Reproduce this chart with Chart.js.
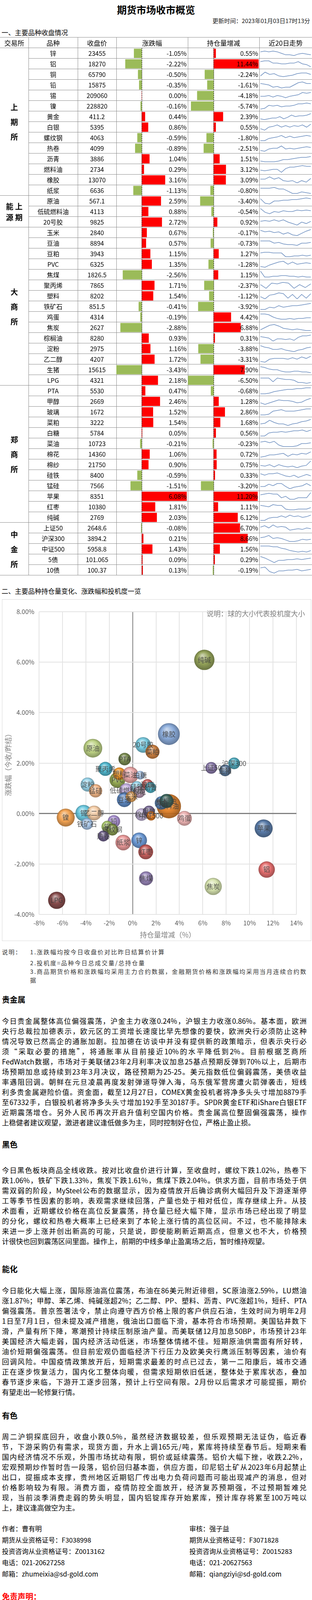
<!DOCTYPE html>
<html>
<head>
<meta charset="utf-8">
<script src="https://cdn.jsdelivr.net/npm/chart.js@4.4.0/dist/chart.umd.min.js"></script>
<style>
body { margin:0; background:#fff; font-family:"Noto Sans CJK SC", sans-serif; color:#000; }
#page { position:relative; width:799px; height:4343px; overflow:hidden; }
.abs { position:absolute; }
.cell { position:absolute; height:27px; line-height:27px; font-size:16px; white-space:nowrap; }
.hl { position:absolute; height:1px; background:#8c8c8c; }
.vl { position:absolute; width:1px; background:#8c8c8c; }
.para div { height:26px; line-height:26px; font-size:18px; white-space:nowrap; width:780px; text-align:justify; text-align-last:justify; }
.para div.last { text-align-last:left; }
.h2 { position:absolute; left:5px; font-size:20px; font-weight:bold; }
</style>
</head>
<body>
<div id="page">
  <div class="abs" style="left:0;width:799px;top:6px;text-align:center;font-size:25px;font-weight:bold;">期货市场收市概览</div>
  <div class="abs" style="right:5px;top:42px;font-size:15px;color:#222;">更新时间：2023年01月03日17时13分</div>
  <div class="abs" style="left:4px;top:70px;font-size:17px;">一、主要品种收盘情况</div>
  <div id="tbl"></div>
  <canvas id="chgChart" class="abs" width="183" height="1350" style="left:298px;top:123px;"></canvas>
  <canvas id="oiChart" class="abs" width="183" height="1350" style="left:481px;top:123px;"></canvas>
  <div id="txt" class="abs" style="left:0;top:0;width:799px;height:1480px;"></div>

  <div class="abs" style="left:4px;top:1500px;font-size:17px;">二、主要品种持仓量变化、涨跌幅和投机度一览</div>
  <div class="abs" style="left:5px;top:1534px;width:792px;height:875px;border:1px solid #d9d9d9;box-sizing:border-box;"></div>
  <canvas id="bubble" class="abs" width="790" height="873" style="left:6px;top:1535px;"></canvas>

  <div class="abs" style="left:5px;top:2426px;font-size:15px;color:#333;letter-spacing:2px;line-height:22px;">说明：</div>
  <div class="abs" style="left:77px;top:2426px;font-size:15px;color:#333;letter-spacing:2.3px;line-height:22px;width:720px;">
    <div>1.涨跌幅均按今日收盘价对比昨日结算价计算</div>
    <div style="margin-top:6px">2.投机度=品种今日总成交量/总持仓量</div>
    <div>3.商品期货价格和涨跌幅均采用主力合约数据，金融期货价格和涨跌幅均采用当月连续合约数据</div>
  </div>

  <div class="h2" style="top:2544px;">贵金属</div>
  <div class="para abs" style="left:5px;top:2600px;">
    <div>今日贵金属整体高位偏强震荡，沪金主力收涨0.24%，沪银主力收涨0.86%。基本面，欧洲</div>
    <div>央行总裁拉加德表示，欧元区的工资增长速度比早先想像的要快，欧洲央行必须防止这种</div>
    <div>情况导致已然高企的通胀加剧。拉加德在访谈中并没有提供新的政策暗示，但表示央行必</div>
    <div>须“采取必要的措施”，将通胀率从目前接近10%的水平降低到2%。目前根据芝商所</div>
    <div>FedWatch数据，市场对于美联储23年2月利率决议加息25基点预期反弹到70%以上，后期市</div>
    <div>场预期加息或持续到23年3月决议，路径预期为25-25。美元指数低位偏弱震荡，美债收益</div>
    <div>率遇阻回调。朝鲜在元旦凌晨再度发射弹道导弹入海，乌东俄军营房遭火箭弹袭击，短线</div>
    <div>利多贵金属避险价值。资金面，截至12月27日，COMEX黄金投机者将净多头头寸增加8879手</div>
    <div>至67332手，白银投机者将净多头头寸增加192手至30187手。SPDR黄金ETF和iShare白银ETF</div>
    <div>近期震荡增仓。另外人民币再次开启升值利空国内价格。贵金属高位整固偏强震荡，操作</div>
    <div class="last">上稳健者建议观望，激进者建议逢低做多为主，同时控制好仓位，严格止盈止损。</div>
  </div>

  <div class="h2" style="top:2915px;">黑色</div>
  <div class="para abs" style="left:5px;top:2982px;">
    <div>今日黑色板块商品全线收跌。按对比收盘价进行计算，至收盘时，螺纹下跌1.02%，热卷下</div>
    <div>跌1.06%，铁矿下跌1.33%，焦炭下跌1.61%，焦煤下跌2.04%。供求方面，目前市场处于供</div>
    <div>需双弱的阶段，MySteel公布的数据显示，因为疫情放开后确诊病例大幅回升及下游逐渐停</div>
    <div>工等季节性因素的影响，表观需求继续回落，产量也处于相对低位，库存继续上升。从技</div>
    <div>术面看，近期螺纹价格在高位反复震荡，持仓量已经大幅下降，显示市场已经出现了明显</div>
    <div>的分化，螺纹和热卷大概率上已经来到了本轮上涨行情的高位区间。不过，也不能排除未</div>
    <div>来进一步上涨并创出新高的可能，只是说，即使能刷新近期高点，但意义也不大，价格预</div>
    <div class="last">计很快也回到震荡区间里面。操作上，前期的中线多单止盈离场之后，暂时维持观望。</div>
  </div>

  <div class="h2" style="top:3234px;">能化</div>
  <div class="para abs" style="left:5px;top:3290px;">
    <div>今日能化大幅上涨，国际原油高位震荡，布油在86美元附近徘徊，SC原油涨2.59%，LU燃油</div>
    <div>涨1.87%；甲醇、苯乙烯、纯碱涨超2%；乙二醇、PP、塑料、沥青、PVC涨超1%，短纤、PTA</div>
    <div>偏强震荡。普京签署法令，禁止向遵守西方价格上限的客户供应石油，生效时间为明年2月</div>
    <div>1日至7月1日，但未提及减产措施，俄油出口面临下滑，基本符合市场预期。美国钻井数下</div>
    <div>滑，产量有所下降，寒潮预计持续压制原油产量。而美联储12月加息50BP，市场预计23年</div>
    <div>美国经济大幅走弱，国内经济活动低迷，市场整体情绪不佳。短期原油供需面有所好转，</div>
    <div>油价短期偏强震荡。但目前宏观仍面临经济下行压力及欧美央行鹰派压制等因素，油价有</div>
    <div>回调风险。中国疫情政策放开后，短期需求最差的时点已过去，第一二阳康后，城市交通</div>
    <div>正在逐步恢复活力，国内化工整体向暖，但需求短期依旧低迷，整体处于累库状态，叠加</div>
    <div>春节逐步来临，下游开工逐步回落，预计上行空间有限。2月份以后需求才可能提振，期价</div>
    <div class="last">有望走出一轮修复行情。</div>
  </div>

  <div class="h2" style="top:3609px;">有色</div>
  <div class="para abs" style="left:5px;top:3664px;">
    <div>周二沪铜探底回升，收盘小跌0.5%，虽然经济数据较差，但乐观预期无法证伪，临近春</div>
    <div>节，下游采购仍有需求，现货方面，升水上调165元/吨，累库将持续至春节后。短期来看</div>
    <div>国内经济情况不乐观，外围市场扰动有限，铜价或延续震荡。铝价大幅下挫，收跌2.2%，</div>
    <div>宏观预期炒作暂时告一段落，铝价回归基本面，供应方面，印尼铝土矿从2023年6月起禁止</div>
    <div>出口，提振成本支撑，贵州地区近期铝厂传出电力负荷问题而可能出现减产的消息，但对</div>
    <div>价格影响较为有限。消费方面，疫情防控全面放开，经济复苏预期强，不过预期暂难兑</div>
    <div>现，当前淡季消费走弱的势头明显，国内铝锭库存开始累库，预计库存将累至100万吨以</div>
    <div class="last">上，建议逢高做空为主。</div>
  </div>

  <div class="abs" style="left:5px;top:3898px;font-size:17px;line-height:29px;">
    <div>作者：曹有明</div>
    <div>期货从业资格证号：F3038998</div>
    <div>投资咨询从业资格证号：Z0013162</div>
    <div>电话：021-20627258</div>
    <div>邮箱：zhumeixia@sd-gold.com</div>
  </div>
  <div class="abs" style="left:485px;top:3898px;font-size:17px;line-height:29px;">
    <div>审核：强子益</div>
    <div>期货从业资格证号：F3071828</div>
    <div>投资咨询从业资格证号：Z0015283</div>
    <div>电话：021-20627563</div>
    <div>邮箱：qiangziyi@sd-gold.com</div>
  </div>

  <div class="abs" style="left:5px;top:4072px;font-size:20px;font-weight:bold;color:#ff0000;">免责声明：</div>
  <div class="para abs" style="left:5px;top:4105px;">
    <div>　　本报告由山金期货投资咨询部制作，未获得山金期货有限公司的书面授权，任何人和</div>
    <div>单位不得对本报告进行任何形式的修改、发布和复制。本报告基于本公司期货研究人员采</div>
    <div>用可信的公开资料和实地调研资料，但本公司对这些信息的准确性和完整性不作任何保</div>
    <div>证，且本报告中的资料、建议、预测均反映报告初次发布时的判断，可能会随时调整，报</div>
    <div>告中的信息或所表达的意见不构成投资、法律、会计或税务的最终操作建议，本公司不就</div>
    <div>报告中的内容对最终操作建议作任何担保。在山金期货有限公司及其研究人员知情的范围</div>
    <div>内，山金期货有限公司及其期货研究人员以及财产上的利害关系人与所评价或推荐的产品</div>
  </div>
</div>

<script>
// ---- table data ----
const exchanges = [
  { name: "上<br>期<br>所", rows: 14 },
  { name: "能&nbsp;上<br>源&nbsp;期", rows: 3 },
  { name: "大<br>商<br>所", rows: 15 },
  { name: "郑<br>商<br>所", rows: 13 },
  { name: "中<br>金<br>所", rows: 5 }
];
const varieties = ["锌","铝","铜","铅","锡","镍","黄金","白银","螺纹钢","热卷","沥青","燃料油","橡胶","纸浆",
  "原油","低硫燃料油","20号胶",
  "玉米","豆油","豆粕","PVC","焦煤","聚丙烯","塑料","铁矿石","鸡蛋","焦炭","棕榈油","淀粉","乙二醇","生猪","LPG",
  "PTA","甲醇","玻璃","菜粕","白糖","菜油","棉花","棉纱","硅铁","锰硅","苹果","红枣","纯碱",
  "上证50","沪深300","中证500","5债","10债"];
const closes = ["23455","18270","65790","15875","209060","228820","411.2","5395","4063","4099","3886","2734","13070","6636",
  "567.1","4113","9825",
  "2840","8894","3943","6325","1826.5","7865","8202","851.5","4314","2627","8280","2975","4207","15615","4321",
  "5530","2669","1672","3222","5784","10723","14360","21750","8400","7566","8351","10380","2769",
  "2648.6","3894.2","5958.8","101.065","100.37"];
const changes = [-1.05,-2.22,-0.50,-0.35,0.00,-0.16,0.44,0.86,-0.59,-0.89,1.04,0.29,3.16,-1.13,
  2.59,0.88,2.72,
  0.67,0.57,1.15,1.35,-2.56,1.71,1.54,-0.41,-0.19,-2.88,0.93,1.16,1.72,-3.43,2.18,
  0.47,2.46,1.52,1.54,0.05,-0.21,1.06,0.90,-0.59,-1.51,6.08,1.81,2.03,
  -0.08,0.21,1.43,0.09,0.13];
const oiChanges = [0.55,11.44,-2.24,-1.61,-4.18,-5.74,2.39,0.55,-1.80,-2.51,1.51,3.12,3.09,-0.80,
  -3.40,-0.54,0.92,
  -0.17,-0.73,1.27,-1.28,1.15,-2.37,-1.12,-3.92,4.42,6.88,0.31,-3.88,-3.31,7.90,-6.50,
  -0.68,1.28,2.86,1.68,0.56,-0.23,0.72,0.75,0.33,-3.20,11.20,1.11,6.12,
  6.70,8.66,1.56,0.29,-0.19];
// 近20日走势 (read roughly off the sparklines, relative height 0-10)
const trends = [
  [7,8,7,8,7,5,3,3,2,4,5,4,3],[8,9,9,6,6,5,5,6,6,8,5,4,1],[3,8,5,6,3,2,3,4,6,7,7,5],[7,6,5,2,3,1,2,2,5,8,9,7,7],
  [4,4,5,3,5,4,2,4,5,6,9,8,9],[1,2,6,5,6,4,5,5,6,8,8,9,8],[2,1,2,3,3,5,2,4,7,5,6,6,7,9],[3,1,5,6,8,5,7,5,7,6,8,5,9],
  [1,1,4,5,6,8,5,7,5,6,7,8,7],[2,1,4,5,5,8,4,5,4,5,6,7,6],[2,1,1,1,2,4,4,5,6,7,7,8],[4,3,4,5,5,1,6,8,8,9,10,9,9],
  [6,6,9,6,8,4,3,4,1,4,2,7],[8,8,8,9,7,7,4,1,1,3,2,1],
  [8,2,1,5,5,6,6,7,7,8,9,8],[9,4,2,5,4,6,5,5,7,6,7,6],[6,7,6,8,6,8,5,3,1,5,3,6],
  [8,6,7,5,6,3,5,2,1,4,7,9],[8,8,8,5,6,4,3,3,2,5,5,6],[6,7,7,6,6,6,1,1,2,2,3,2,3],[2,1,4,6,8,9,5,8,5,6,7,6],
  [10,2,2,3,3,4,4,3,3,2,3,2,2],[6,1,8,7,9,8,1,6,2,7],[4,1,6,7,9,8,2,7,1,7,2,8],[1,1,4,3,6,4,5,6,6,7,8,9],
  [9,9,8,5,3,2,2,3,2,3,3,4,4],[2,5,8,9,7,4,3,2,3,2,1,1],[7,6,5,1,4,4,3,4,2,6,8,8,9],[9,7,6,4,4,5,3,2,1,3,4,6,7],
  [2,1,5,6,6,6,5,7,5,8,6,9],[9,8,6,5,5,3,2,2,3,3,2,2,1],[8,8,8,3,8,7,6,6,5,2,2,1,2],
  [1,1,2,4,5,6,7,7,8,8,9,9],[3,1,3,5,7,6,6,5,3,4,7,9],[1,1,2,6,7,8,6,6,6,7,8,9,9],[3,4,8,5,3,3,1,3,4,6,7,9],
  [1,1,5,6,6,7,6,7,8,8,9,7,9],[7,8,6,8,3,1,1,1,2,5,5,6],[1,2,4,4,5,6,2,5,4,6,5,8],[4,3,5,2,5,3,2,3,1,3,4,10],
  [7,5,7,7,8,6,4,3,5,2,4,6,4],[4,4,7,5,8,8,4,1,3,4,5,8,5],[7,8,9,8,8,3,5,1,1,3,3,3,10],[7,6,5,8,7,7,2,1,1,2,2,2,4],
  [1,1,4,5,5,7,5,8,6,7,5,6,8],
  [6,8,5,9,6,7,6,2,3,4,3,5,4],[6,7,9,5,6,5,3,1,1,2,4,3,4],[9,9,9,8,8,6,5,3,2,1,2,1,3],[9,7,4,1,4,4,5,5,6,5,6,7],[8,9,3,1,4,4,5,5,6,4,5,6]
];

// ---- bubble chart data ----
const bubbleNames = ["纯碱","橡胶","原油","20号胶","菜粕","PTA","沪深300","上证50","生猪","聚丙烯","淀粉","PVC","塑料","菜油","白糖",
  "锰硅","低硫燃料油","硅铁","玻璃","沥青","棉花","豆油","玉米","燃料油","黄金","棕榈油","鸡蛋","镍","锡","乙二醇","铁矿石",
  "铅","铜","螺纹钢","热卷","纸浆","锌","红枣","棉纱","甲醇","中证500","苹果","铝","焦煤","焦炭","LPG"];
const bubbleOI = [6.13,3.10,-3.40,0.90,1.70,-0.68,8.68,6.72,7.91,-2.33,-3.85,-1.30,-1.14,-0.20,0.65,
  -3.17,-0.54,0.36,1.27,1.53,0.56,-0.71,-0.12,3.10,2.46,2.90,4.43,-5.72,-4.19,-3.29,-3.90,
  -1.60,-2.16,-1.73,-2.50,-0.80,0.56,1.12,0.76,1.40,1.58,11.20,11.46,1.15,6.89,-6.49];
const bubbleChg = [6.09,3.15,2.59,2.72,2.45,2.16,1.99,1.81,1.71,1.77,1.15,1.33,1.58,1.53,1.52,
  0.90,0.92,1.05,1.15,1.03,0.85,0.55,0.67,0.29,0.42,0.50,-0.19,-0.16,0.02,0.02,-0.41,
  -0.31,-0.52,-0.64,-0.89,-1.15,-1.06,-1.52,-0.04,0.08,-0.09,-0.59,-2.22,-2.57,-2.89,-3.44];
const bubbleSize = [26,28,24,20,18,16,15,15,15,18,18,20,16,21,11,
  17,18,15,14,14,15,19,14,31,17,18,19,23,21,19,15,
  16,15,15,14,20,20,19,16,15,12,23,21,18,22,22];
const bubbleColors = ["#8a9a4a","#7fa3d6","#b8cf7a","#6cc6dd","#c8742e","#6a7d3e","#3ea0b5","#7b6a9e","#4b6b8f","#3fb0c9","#8fd0e8","#8aa044","#f0901e","#e8a0a0","#9fbfe6",
  "#f2b07c","#b9a4d9","#8fd0e8","#c0504d","#3fa8be","#b08fa8","#4f7fbf","#e6a050","#e07b1f","#4f81bd","#2f5f5a","#f0b0b0","#f39c44","#5ec3dc","#f6caa0","#9fc0e6",
  "#9d83c8","#9bbb59","#7a8f3e","#5f5080","#e89090","#5d8fd0","#c0504d","#b8a8d0","#6a5a8a","#e07010","#4a6fa0","#e06060","#8c78b0","#d4e2a8","#7a3a3a"];

// ---- build table ----
const ROW = 27, TOP = 123;
const tbl = document.getElementById("tbl");
const txt = document.getElementById("txt");
function add(parent, cls, style, html) {
  const d = document.createElement("div");
  d.className = cls;
  d.setAttribute("style", style);
  if (html !== undefined) d.innerHTML = html;
  parent.appendChild(d);
  return d;
}
const cols = [0, 73, 199, 298, 481, 664, 799];
add(tbl, "hl", "left:0;width:799px;top:95px;");
add(tbl, "hl", "left:0;width:799px;top:122px;");
["交易所","品种","收盘价","涨跌幅","持仓量增减","近20日走势"].forEach((h, i) => {
  add(txt, "cell", `left:${cols[i]}px;width:${cols[i+1]-cols[i]}px;top:96px;text-align:center;font-size:17px;`, h);
});
for (let i = 1; i < 6; i++) add(tbl, "vl", `left:${cols[i]}px;top:96px;height:${27 + varieties.length * ROW}px;`);

let r = 0;
exchanges.forEach(ex => {
  const y = TOP + r * ROW, h = ex.rows * ROW;
  add(txt, "abs", `left:0;width:73px;top:${y}px;height:${h}px;display:flex;align-items:center;justify-content:center;font-size:19px;font-weight:bold;text-align:center;line-height:${ex.rows > 3 ? 38 : 28}px;`,
    `<div>${ex.name}</div>`);
  add(tbl, "hl", `left:0;width:799px;top:${y + h - 1}px;`);
  r += ex.rows;
});
varieties.forEach((v, i) => {
  const y = TOP + i * ROW;
  add(tbl, "hl", `left:73px;width:726px;top:${y + ROW - 1}px;`);
  add(txt, "cell", `left:73px;width:126px;top:${y}px;text-align:center;`, v);
  add(txt, "cell", `left:199px;width:99px;top:${y}px;text-align:center;`, closes[i]);
  add(txt, "cell", `left:298px;width:180px;top:${y}px;text-align:right;`, changes[i].toFixed(2) + "%");
  add(txt, "cell", `left:481px;width:180px;top:${y}px;text-align:right;`, oiChanges[i].toFixed(2) + "%");
});

// ---- in-cell bars ----
const zeroLine = {
  id: "zeroLine",
  afterDatasetsDraw(chart) {
    const c = chart.ctx, x = Math.round(chart.scales.x.getPixelForValue(0)) + 0.5;
    c.save();
    c.strokeStyle = "#000";
    c.setLineDash([3, 2]);
    c.lineWidth = 1;
    c.beginPath(); c.moveTo(x, 0); c.lineTo(x, chart.height); c.stroke();
    c.restore();
  }
};
function cellBars(id, data, min, max) {
  new Chart(document.getElementById(id), {
    type: "bar",
    data: {
      labels: varieties,
      datasets: [{
        data: data,
        backgroundColor: data.map(v => v >= 0 ? "#ff0000" : "#9bbb59"),
        barThickness: 23,
        borderWidth: 0
      }]
    },
    options: {
      indexAxis: "y",
      responsive: false,
      animation: false,
      layout: { padding: 0 },
      plugins: { legend: { display: false }, tooltip: { enabled: false } },
      scales: {
        x: { display: false, min: min, max: max },
        y: { display: false }
      }
    },
    plugins: [zeroLine]
  });
}
cellBars("chgChart", changes, -3.44, 6.24);
cellBars("oiChart", oiChanges, -6.57, 11.64);

// ---- sparklines ----
trends.forEach((t, i) => {
  const cv = document.createElement("canvas");
  cv.width = 129; cv.height = 23;
  cv.className = "abs";
  cv.style.left = "667px";
  cv.style.top = (TOP + i * ROW + 2) + "px";
  document.getElementById("page").appendChild(cv);
  new Chart(cv, {
    type: "line",
    data: { labels: t.map((_, k) => k), datasets: [{ data: t, borderColor: "#6c8ebf", borderWidth: 1.5, pointRadius: 0, tension: 0 }] },
    options: {
      responsive: false, animation: false,
      plugins: { legend: { display: false }, tooltip: { enabled: false } },
      scales: { x: { display: false }, y: { display: false, min: -1, max: 11 } }
    }
  });
});

// ---- bubble chart ----
function shade(hex, f) {
  const n = parseInt(hex.slice(1), 16);
  let rr = n >> 16, gg = (n >> 8) & 255, bb = n & 255;
  if (f > 0) { rr += (255 - rr) * f; gg += (255 - gg) * f; bb += (255 - bb) * f; }
  else { rr *= 1 + f; gg *= 1 + f; bb *= 1 + f; }
  return `rgba(${rr|0},${gg|0},${bb|0},0.92)`;
}
const bubbleLabels = {
  id: "bubbleLabels",
  afterDatasetsDraw(chart) {
    const c = chart.ctx, meta = chart.getDatasetMeta(0);
    c.save();
    c.font = '17px "Noto Sans CJK SC"';
    c.fillStyle = "rgba(60,60,60,0.85)";
    c.textAlign = "center"; c.textBaseline = "middle";
    meta.data.forEach((pt, i) => c.fillText(bubbleNames[i], pt.x, pt.y));
    c.font = '18px "Noto Sans CJK SC"';
    c.fillStyle = "#7f7f7f";
    c.textAlign = "right";
    c.fillText("说明：球的大小代表投机度大小", 775, 36);
    c.restore();
  }
};
new Chart(document.getElementById("bubble"), {
  type: "bubble",
  data: {
    datasets: [{
      data: bubbleOI.map((x, i) => ({ x: x, y: bubbleChg[i], r: bubbleSize[i] })),
      borderWidth: 0,
      backgroundColor(ctx) {
        const raw = ctx.raw, ch = ctx.chart, col = bubbleColors[ctx.dataIndex];
        if (!raw || !ch.scales || !ch.scales.x || !ch.scales.y) return col;
        const px = ch.scales.x.getPixelForValue(raw.x), py = ch.scales.y.getPixelForValue(raw.y);
        if (!isFinite(px) || !isFinite(py)) return col;
        const g = ch.ctx.createRadialGradient(px - raw.r * 0.2, py - raw.r * 0.45, 1, px, py, raw.r * 1.05);
        g.addColorStop(0, shade(col, 0.55));
        g.addColorStop(0.55, shade(col, 0));
        g.addColorStop(1, shade(col, -0.35));
        return g;
      }
    }]
  },
  options: {
    responsive: false,
    animation: false,
    layout: { padding: { top: 14, right: 37, left: 0, bottom: 0 } },
    plugins: { legend: { display: false }, tooltip: { enabled: false } },
    scales: {
      x: {
        min: -8, max: 14,
        afterFit(s) { s.height = 67; },
        border: { display: false },
        grid: {
          color: c => c.tick && c.tick.value === 0 ? "#808080" : "#e3e3e3",
          lineWidth: 2,
          drawTicks: false
        },
        ticks: { stepSize: 2, padding: 12, color: "#595959", font: { size: 16, family: "Noto Sans CJK SC" }, callback: v => v + "%" },
        title: { display: true, text: "持仓量增减（%）", color: "#7f7f7f", font: { size: 18, family: "Noto Sans CJK SC" }, padding: { top: 2 } }
      },
      y: {
        min: -4, max: 8,
        afterFit(s) { s.width = 94; },
        border: { display: false },
        grid: {
          color: c => c.tick && c.tick.value === 0 ? "#808080" : "#e3e3e3",
          lineWidth: c => c.tick && c.tick.value === 0 ? 3 : 2,
          drawTicks: false
        },
        ticks: { stepSize: 2, padding: 12, color: "#595959", font: { size: 16, family: "Noto Sans CJK SC" }, callback: v => v.toFixed(2) + "%" },
        title: { display: true, text: "涨跌幅（今收/昨结）", color: "#7f7f7f", font: { size: 18, family: "Noto Sans CJK SC" }, padding: { bottom: 0 } }
      }
    }
  },
  plugins: [bubbleLabels]
});
</script>
</body>
</html>
